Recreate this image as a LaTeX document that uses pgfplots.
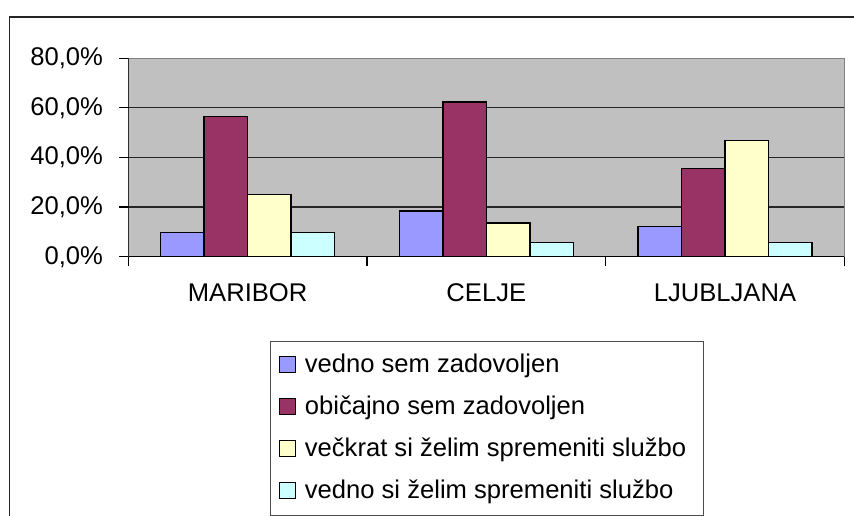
\documentclass[border=0pt]{standalone}
\usepackage{pgfplots}
\pgfplotsset{compat=1.18}
\usepackage{fontspec}
\setmainfont{Liberation Sans}
\definecolor{cA}{HTML}{9999FF}
\definecolor{cB}{HTML}{993366}
\definecolor{cC}{HTML}{FFFFCC}
\definecolor{cD}{HTML}{CCFFFF}
\definecolor{plotbg}{HTML}{C0C0C0}
\definecolor{bordergray}{HTML}{808080}
\begin{document}
\begin{tikzpicture}
\useasboundingbox (0bp,0bp) rectangle (427bp,258bp);
\fill[white] (0bp,0bp) rectangle (427bp,258bp);
\draw[line width=0.8bp, black!85] (4.75bp,0bp) -- (4.75bp,249.5bp) -- (427bp,249.5bp);
\begin{axis}[
  at={(64.15bp,129.65bp)}, anchor=south west,
  width=358bp, height=99.2bp, scale only axis,
  font=\fontsize{12.8bp}{15bp}\selectfont,
  xmin=-0.5, xmax=2.5, ymin=0, ymax=80,
  ybar=0pt, bar width=21.75bp,
  axis background/.style={fill=plotbg},
  axis line style={draw=bordergray, line width=0.6bp},
  tick pos=left,
  tick align=outside, major tick length=4.5bp,
  tick style={draw=black, line width=0.6bp},
  xtick={-0.5,0.5,1.5,2.5}, xticklabels={},
  extra x ticks={0,1,2},
  extra x tick labels={MARIBOR,CELJE,LJUBLJANA},
  extra x tick style={major tick length=0pt, tick style={draw=none},
    xticklabel style={anchor=north, inner sep=0pt, yshift=-13.4bp}},
  ytick={0,20,40,60,80},
  yticklabels={{0,0\%},{20,0\%},{40,0\%},{60,0\%},{80,0\%}},
  yticklabel style={anchor=east, inner sep=0pt, xshift=-8bp},
  extra y ticks={20,40,60}, extra y tick labels={},
  extra y tick style={grid=major, major grid style={draw=black!85, line width=0.6bp}},
  legend cell align=left,
  legend style={at={(0.198,-0.4234)}, anchor=north west,
    draw=black!70, line width=0.6bp, fill=white,
    font=\fontsize{12.8bp}{15bp}\selectfont,
    inner xsep=4.3bp, inner ysep=6bp, row sep=9bp,
    nodes={inner xsep=4.2bp, inner ysep=0pt, text height=9.5bp, text depth=2.5bp}},
  legend image code/.code={\draw[#1, draw=black, line width=0.6bp] (0bp,-3.5bp) rectangle (8bp,4.5bp);},
]
\addplot[fill=cA, draw=black, line width=0.8bp] coordinates {(0,9.7) (1,18.4) (2,12.1)};
\addplot[fill=cB, draw=black, line width=0.8bp] coordinates {(0,56.5) (1,62.3) (2,35.5)};
\addplot[fill=cC, draw=black, line width=0.8bp] coordinates {(0,25.0) (1,13.7) (2,46.8)};
\addplot[fill=cD, draw=black, line width=0.8bp] coordinates {(0,9.7) (1,5.8) (2,5.8)};
\legend{vedno sem zadovoljen, običajno sem zadovoljen, večkrat si želim spremeniti službo, vedno si želim spremeniti službo}
\draw[black, line width=0.6bp] (rel axis cs:0,1) -- (rel axis cs:0,0) -- (rel axis cs:1,0);
\end{axis}
\end{tikzpicture}
\end{document}
